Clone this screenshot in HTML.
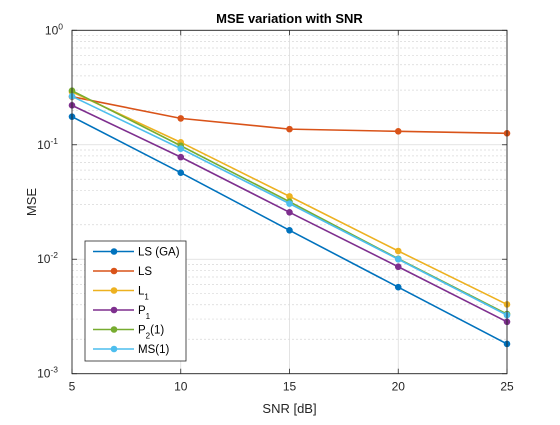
<!DOCTYPE html>
<html><head><meta charset="utf-8"><style>
body{margin:0;background:#fff;}
svg{font-family:"Liberation Sans",Arial,sans-serif;}
</style></head><body>
<svg id="chart" width="560" height="420" viewBox="0 0 560 420" xmlns="http://www.w3.org/2000/svg">
<rect x="0" y="0" width="560" height="420" fill="#fff"/>
<g id="grid"></g>
<g id="series"></g>
<g id="axes"></g>
<g id="legend"></g>
</svg>
<script>
const snr = [5, 10, 15, 20, 25];
const lsGA = [0.176, 0.057, 0.0179, 0.0057, 0.00182];
const ls = [0.263, 0.170, 0.137, 0.131, 0.126];
const l1 = [0.290, 0.105, 0.0354, 0.0118, 0.00403];
const p1 = [0.221, 0.078, 0.0257, 0.0086, 0.00284];
const p2 = [0.297, 0.098, 0.0318, 0.0101, 0.00332];
const ms1 = [0.265, 0.0925, 0.0306, 0.0100, 0.00325];
const seriesNames = ["LS (GA)", "LS", "L1", "P1", "P2(1)", "MS(1)"];
const seriesColors = ["#0072BD", "#D95319", "#EDB120", "#7E2F8E", "#77AC30", "#4DBEEE"];
const xTicks = [5, 10, 15, 20, 25];
const yExps = [0, -1, -2, -3];

const NS = "http://www.w3.org/2000/svg";
const L = 72, R = 507, T = 30.3, B = 373.7;
const xs = v => L + (v - 5) / 20 * (R - L);
const ys = v => T + (0 - Math.log10(v)) / 3 * (B - T);
function mk(tag, attrs, parent) {
  const e = document.createElementNS(NS, tag);
  for (const k in attrs) e.setAttribute(k, attrs[k]);
  parent.appendChild(e);
  return e;
}
const grid = document.getElementById('grid');
const axes = document.getElementById('axes');
const sg = document.getElementById('series');
const lg = document.getElementById('legend');

mk('rect', {x: L, y: T, width: R - L, height: B - T, fill: '#fff'}, grid);
for (let d = -3; d < 0; d++) {
  for (let m = 2; m <= 9; m++) {
    const y = ys(m * Math.pow(10, d));
    const ln = mk('line', {x1: L, x2: R, y1: y, y2: y, stroke: '#d8d8d8', 'stroke-width': 0.7, 'stroke-dasharray': '2,2'}, grid);
    
    
  }
}
yExps.forEach(e => {
  const y = ys(Math.pow(10, e));
  const ln = mk('line', {x1: L, x2: R, y1: y, y2: y, stroke: '#dcdcdc', 'stroke-width': 0.8}, grid);
  
  
  mk('line', {x1: L, x2: L + 5, y1: y, y2: y, stroke: '#262626', 'stroke-width': 0.8}, axes);
  mk('line', {x1: R, x2: R - 5, y1: y, y2: y, stroke: '#262626', 'stroke-width': 0.8}, axes);
  const t = mk('text', {x: L - 4, y: y + 4, 'text-anchor': 'end', 'font-size': 12, fill: '#262626'}, axes);
  
  
  t.textContent = '10';
  const s = mk('tspan', {dy: -5, 'font-size': 8.5}, t);
  s.textContent = String(e);
  t.setAttribute('x', L - 4 - (e < 0 ? 10 : 5));
});
xTicks.forEach(v => {
  const x = xs(v);
  const ln = mk('line', {x1: x, x2: x, y1: T, y2: B, stroke: '#dcdcdc', 'stroke-width': 0.8}, grid);
  
  
  mk('line', {x1: x, x2: x, y1: B, y2: B - 5, stroke: '#262626', 'stroke-width': 0.8}, axes);
  mk('line', {x1: x, x2: x, y1: T, y2: T + 5, stroke: '#262626', 'stroke-width': 0.8}, axes);
  const t = mk('text', {x: x, y: B + 17, 'text-anchor': 'middle', 'font-size': 12, fill: '#262626'}, axes);
  
  
  t.textContent = v;
});
const box = mk('rect', {x: L, y: T, width: R - L, height: B - T, fill: 'none', stroke: '#262626', 'stroke-width': 0.9}, axes);


const title = mk('text', {x: (L + R) / 2, y: 23, 'text-anchor': 'middle', 'font-size': 13, 'font-weight': 'bold', fill: '#000'}, axes);


title.textContent = 'MSE variation with SNR';
const xl = mk('text', {x: (L + R) / 2, y: 413, 'text-anchor': 'middle', 'font-size': 13, fill: '#262626'}, axes);


xl.textContent = 'SNR [dB]';
const yl = mk('text', {x: 0, y: 0, 'text-anchor': 'middle', 'font-size': 13, fill: '#262626', transform: `translate(36,${(T + B) / 2}) rotate(-90)`}, axes);


yl.textContent = 'MSE';

const allSeries = [lsGA, ls, l1, p1, p2, ms1];
allSeries.forEach((vals, i) => {
  const g = mk('g', {}, sg);
  
  
  const pts = vals.map((v, j) => xs(snr[j]) + ',' + ys(v)).join(' ');
  mk('polyline', {points: pts, fill: 'none', stroke: seriesColors[i], 'stroke-width': 1.6}, g);
  vals.forEach((v, j) => {
    const c = mk('circle', {cx: xs(snr[j]), cy: ys(v), r: 3.3, fill: seriesColors[i]}, g);
    
    
  });
});

const lb = mk('rect', {x: 85, y: 241, width: 101, height: 120, fill: '#fff', stroke: '#262626', 'stroke-width': 0.8}, lg);


const labelHTML = [["LS (GA)", ""], ["LS", ""], ["L", "1"], ["P", "1"], ["P", "2", "(1)"], ["MS(1)", ""]];
seriesNames.forEach((n, i) => {
  const y = 251.5 + i * 19.5;
  const g = mk('g', {}, lg);
  
  
  mk('line', {x1: 93, x2: 134, y1: y, y2: y, stroke: seriesColors[i], 'stroke-width': 1.6}, g);
  mk('circle', {cx: 114, cy: y, r: 3.3, fill: seriesColors[i]}, g);
  const t = mk('text', {x: 138, y: y + 4, 'font-size': 11.5, fill: '#000'}, g);
  const parts = labelHTML[i];
  const a = mk('tspan', {}, t); a.textContent = parts[0];
  if (parts[1]) {
    const b = mk('tspan', {dy: 5, 'font-size': 8}, t); b.textContent = parts[1];
    if (parts[2]) { const c = mk('tspan', {dy: -5}, t); c.textContent = parts[2]; }
  }
});
</script>
</body></html>
